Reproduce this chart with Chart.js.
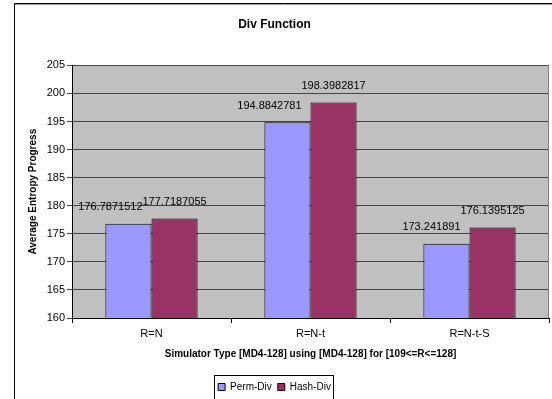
<!DOCTYPE html>
<html lang="en">
<head>
    <meta charset="UTF-8">
    <title>Div Function</title>
    <style>
        html, body {
            margin: 0;
            padding: 0;
            background: #ffffff;
        }
        #wrap {
            width: 552px;
            height: 399px;
        }
    </style>
</head>
<body>
    <div id="wrap"><canvas id="divChart" width="552" height="399"></canvas></div>

    <script src="https://cdn.jsdelivr.net/npm/chart.js"></script>
    <script>
        // data
        const categories = ["R=N", "R=N-t", "R=N-t-S"];
        const permDiv = [176.7871512, 194.8842781, 173.241891];
        const hashDiv = [177.7187055, 198.3982817, 176.1395125];
        const seriesNames = ["Perm-Div", "Hash-Div"];
        const yMin = 160, yMax = 205, yStep = 5;

        const font = "'Liberation Sans', Arial, sans-serif";

        // white page, outer frame, grey plot area
        const backdrop = {
            id: "backdrop",
            beforeDraw(chart) {
                const ctx = chart.ctx;
                const a = chart.chartArea;
                ctx.save();
                ctx.fillStyle = "#ffffff";
                ctx.fillRect(0, 0, chart.width, chart.height);
                ctx.strokeStyle = "#000000";
                ctx.lineWidth = 1;
                ctx.beginPath();
                ctx.moveTo(14.5, chart.height);
                ctx.lineTo(14.5, 3.5);
                ctx.lineTo(chart.width, 3.5);
                ctx.stroke();
                ctx.strokeStyle = "#9a9a9a";
                ctx.beginPath();
                ctx.moveTo(15, 4.5);
                ctx.lineTo(chart.width, 4.5);
                ctx.stroke();
                ctx.fillStyle = "#c0c0c0";
                ctx.fillRect(a.left, a.top, a.right - a.left, a.bottom - a.top);
                ctx.restore();
            },
            afterDatasetsDraw(chart) {
                const ctx = chart.ctx;
                const a = chart.chartArea;
                ctx.save();
                ctx.strokeStyle = "#808080";
                ctx.lineWidth = 1;
                ctx.beginPath();
                ctx.moveTo(a.right - 0.5, a.top);
                ctx.lineTo(a.right - 0.5, a.bottom);
                ctx.stroke();
                ctx.restore();
            }
        };

        // value labels above the bars
        const valueLabels = {
            id: "valueLabels",
            afterDatasetsDraw(chart) {
                const ctx = chart.ctx;
                ctx.save();
                ctx.font = "11px " + font;
                ctx.fillStyle = "#000000";
                ctx.textBaseline = "bottom";
                chart.data.datasets.forEach((ds, di) => {
                    chart.getDatasetMeta(di).data.forEach((bar, i) => {
                        const txt = String(ds.data[i]);
                        if (di === 0) {
                            ctx.textAlign = "right";
                            ctx.fillText(txt, bar.x + bar.width / 2 - 9, bar.y - 11);
                        } else {
                            ctx.textAlign = "center";
                            ctx.fillText(txt, bar.x, bar.y - 11);
                        }
                    });
                });
                ctx.restore();
            }
        };

        // box around the legend items
        const legendBox = {
            id: "legendBox",
            afterDraw(chart) {
                const boxes = chart.legend.legendHitBoxes;
                if (!boxes || !boxes.length) return;
                const left = Math.min(...boxes.map(b => b.left));
                const right = Math.max(...boxes.map(b => b.left + b.width));
                const top = Math.min(...boxes.map(b => b.top));
                const bottom = Math.max(...boxes.map(b => b.top + b.height));
                const ctx = chart.ctx;
                ctx.save();
                ctx.strokeStyle = "#000000";
                ctx.lineWidth = 1;
                ctx.strokeRect(Math.round(left - 4) + 0.5, Math.round(top - 7) + 0.5,
                    Math.round(right - left + 6), Math.round(bottom - top + 14));
                ctx.restore();
            }
        };

        new Chart(document.getElementById("divChart"), {
            type: "bar",
            data: {
                labels: categories,
                datasets: [
                    {
                        label: seriesNames[0],
                        data: permDiv,
                        backgroundColor: "#9999ff",
                        borderColor: "#000000",
                        borderWidth: 1
                    },
                    {
                        label: seriesNames[1],
                        data: hashDiv,
                        backgroundColor: "#993366",
                        borderColor: "#000000",
                        borderWidth: 1
                    }
                ]
            },
            options: {
                responsive: false,
                animation: false,
                devicePixelRatio: 1,
                categoryPercentage: 0.58,
                barPercentage: 1.0,
                layout: { padding: { left: 0, right: 3, top: 5, bottom: -3 } },
                plugins: {
                    title: {
                        display: true,
                        text: "Div Function",
                        color: "#000000",
                        font: { family: font, size: 12, weight: "bold" },
                        padding: { top: 12, bottom: 34 }
                    },
                    legend: {
                        position: "bottom",
                        labels: {
                            color: "#000000",
                            font: { family: font, size: 10 },
                            boxWidth: 7,
                            boxHeight: 7,
                            padding: 6
                        }
                    },
                    tooltip: { enabled: false }
                },
                scales: {
                    x: {
                        grid: {
                            drawOnChartArea: false,
                            drawTicks: true,
                            tickLength: 5,
                            color: "#000000"
                        },
                        border: { color: "#000000" },
                        ticks: {
                            color: "#000000",
                            font: { family: font, size: 11 },
                            padding: 4
                        },
                        title: {
                            display: true,
                            text: "Simulator Type [MD4-128] using [MD4-128] for [109<=R<=128]",
                            color: "#000000",
                            font: { family: font, size: 10, weight: "bold" },
                            padding: { top: 4, bottom: 16 }
                        },
                        afterFit(s) { s.height = 58; }
                    },
                    y: {
                        min: yMin,
                        max: yMax,
                        grid: {
                            color: "#444444",
                            tickLength: 5
                        },
                        border: { color: "#000000" },
                        ticks: {
                            stepSize: yStep,
                            color: "#000000",
                            font: { family: font, size: 11 },
                            padding: 2
                        },
                        title: {
                            display: true,
                            text: "Average Entropy Progress",
                            color: "#000000",
                            font: { family: font, size: 10, weight: "bold" },
                            padding: { top: 27, bottom: 4 }
                        },
                        afterFit(s) { s.width = 72; }
                    }
                }
            },
            plugins: [backdrop, valueLabels, legendBox]
        });
    </script>
</body>
</html>
